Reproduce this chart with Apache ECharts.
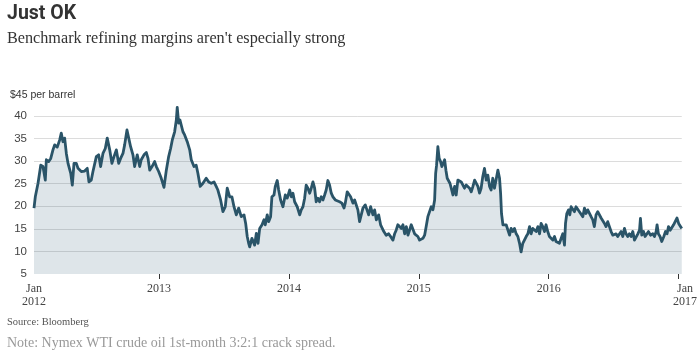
<!DOCTYPE html>
<html>
<head>
<meta charset="utf-8">
<script src="https://cdn.jsdelivr.net/npm/echarts@6/dist/echarts.min.js"></script>
<style>html,body{margin:0;padding:0;background:#fff}#c{width:700px;height:356px}</style>
</head>
<body>
<div id="c"></div>
<script>
// time in decimal years
const times = [
2012.037,2012.047,2012.068,2012.089,2012.106,2012.124,2012.132,2012.150,2012.166,2012.183,2012.196,2012.216,2012.235,2012.247,2012.260,2012.273,2012.286,2012.299,2012.320,2012.332,2012.345,2012.363,2012.376,2012.389,2012.401,2012.427,2012.447,2012.460,2012.478,2012.491,2012.517,2012.535,2012.550,2012.568,2012.586,2012.601,2012.620,2012.637,2012.653,2012.671,2012.689,2012.704,2012.722,2012.735,2012.753,2012.766,2012.781,2012.799,2012.812,2012.832,2012.851,
2012.863,2012.884,2012.902,2012.915,2012.928,2012.946,2012.966,2012.979,2012.997,2013.017,2013.038,2013.056,2013.074,2013.089,2013.102,2013.120,2013.133,2013.140,2013.151,2013.161,2013.171,2013.184,2013.197,2013.217,2013.236,2013.248,2013.269,2013.286,2013.299,2013.317,2013.338,2013.363,2013.382,2013.402,2013.423,2013.440,2013.453,2013.474,2013.492,2013.510,2013.525,2013.544,2013.561,2013.577,2013.595,2013.613,2013.633,2013.654,2013.667,2013.679,2013.690,
2013.698,2013.715,2013.736,2013.749,2013.762,2013.775,2013.793,2013.808,2013.818,2013.833,2013.844,2013.859,2013.869,2013.885,2013.895,2013.910,2013.921,2013.936,2013.954,2013.972,2013.987,2014.006,2014.018,2014.031,2014.044,2014.064,2014.083,2014.095,2014.108,2014.121,2014.133,2014.146,2014.160,2014.172,2014.185,2014.198,2014.210,2014.223,2014.236,2014.249,2014.262,2014.275,2014.287,2014.300,2014.313,2014.326,2014.339,2014.357,2014.372,2014.390,2014.408,2014.424,2014.434,2014.449,2014.460,2014.475,2014.493,2014.506,2014.518,2014.531,2014.544,
2014.557,2014.570,2014.588,2014.603,2014.614,2014.629,2014.647,2014.660,2014.673,2014.691,2014.706,2014.716,2014.731,2014.749,2014.768,2014.783,2014.801,2014.814,2014.826,2014.839,2014.853,2014.865,2014.878,2014.891,2014.904,2014.917,2014.930,2014.942,2014.955,2014.968,2014.980,2014.993,2015.006,2015.019,2015.032,2015.045,2015.057,2015.070,2015.083,2015.096,2015.109,2015.122,2015.130,2015.137,2015.147,2015.157,2015.168,2015.178,2015.188,2015.199,2015.209,2015.219,2015.230,2015.240,2015.250,2015.263,2015.276,2015.288,2015.301,2015.314,2015.327,2015.340,2015.352,2015.365,2015.378,
2015.391,2015.404,2015.417,2015.430,2015.442,2015.455,2015.468,2015.480,2015.493,2015.506,2015.519,2015.532,2015.545,2015.557,2015.570,2015.583,2015.596,2015.609,2015.622,2015.630,2015.637,2015.648,2015.661,2015.673,2015.686,2015.699,2015.711,2015.724,2015.737,2015.750,2015.763,2015.776,2015.788,2015.801,2015.814,2015.827,2015.840,2015.853,2015.865,2015.878,2015.891,2015.904,2015.917,2015.930,2015.942,2015.955,2015.968,2015.980,2015.993,2016.006,2016.019,2016.032,2016.045,2016.057,2016.070,2016.083,2016.096,2016.109,2016.122,2016.130,2016.140,2016.153,2016.163,2016.173,2016.186,2016.199,2016.211,2016.224,
2016.237,2016.250,2016.263,2016.276,2016.288,2016.301,2016.314,2016.327,2016.340,2016.352,2016.365,2016.378,2016.391,2016.404,2016.417,2016.430,2016.442,2016.455,2016.468,2016.481,2016.494,2016.507,2016.519,2016.532,2016.545,2016.558,2016.571,2016.584,2016.596,2016.609,2016.622,2016.635,2016.648,2016.661,2016.674,2016.687,2016.700,2016.707,2016.717,2016.731,2016.743,2016.756,2016.769,2016.784,2016.802,2016.815,2016.828,2016.835,2016.845,2016.858,2016.871,2016.887,2016.900,2016.912,2016.923,2016.936,2016.949,2016.962,2016.975,2016.988,2017.001,2017.014,2017.025
];
// crack spread, $ per barrel
const spread = [
19.6,22.1,25.1,29.1,28.8,25.8,30.3,29.9,30.6,32.5,33.6,33.1,34.7,36.2,34.3,35.1,31.7,29.5,27.3,24.7,29.5,29.5,28.4,28.0,27.7,27.8,28.4,25.4,25.8,27.7,31.0,31.4,28.8,31.7,32.8,35.1,32.5,29.5,31.0,32.5,29.5,30.6,31.7,33.6,36.9,36.7,33.2,31.4,28.8,31.4,28.8,
30.3,31.4,31.9,30.6,28.0,28.8,29.9,28.8,27.7,26.2,24.2,28.0,31.0,32.8,34.7,36.5,39.1,41.9,38.4,39.1,38.7,36.5,35.8,34.3,32.5,30.3,28.8,29.1,27.3,24.4,25.1,26.2,25.4,25.1,25.4,24.4,23.6,21.4,18.8,19.9,24.0,22.1,22.1,19.9,18.1,19.6,17.7,18.1,16.2,13.3,11.8,
11.0,12.9,11.4,14.0,11.8,15.1,15.9,17.0,15.9,18.1,16.6,17.7,22.1,22.5,24.4,25.7,23.6,21.4,19.9,22.5,21.8,23.6,22.1,22.9,21.0,19.9,18.1,19.2,19.9,21.8,24.7,24.0,22.9,24.0,25.4,24.0,21.0,21.8,21.0,22.1,21.4,22.5,23.6,25.7,24.7,22.9,22.1,21.4,21.8,21.0,20.7,19.6,20.7,23.2,23.6,22.1,20.7,21.4,21.4,19.2,16.6,
18.1,19.6,20.3,19.9,18.1,19.9,18.1,19.2,17.0,18.1,15.9,16.2,14.4,13.6,13.9,13.3,12.5,13.9,14.7,15.9,16.2,15.1,15.9,13.9,15.5,13.6,13.9,15.9,15.9,13.9,13.6,13.3,12.5,12.5,12.9,13.6,15.5,17.7,18.1,19.9,19.2,21.4,27.3,29.1,33.2,30.6,29.9,28.8,29.5,30.3,28.0,26.2,26.2,25.1,24.0,22.5,24.4,22.5,25.8,26.2,25.4,25.4,24.0,24.7,24.3,
24.0,23.2,24.4,25.8,26.2,24.4,22.9,24.0,26.6,28.4,25.8,26.9,24.4,23.6,26.2,24.0,24.4,28.0,26.2,22.9,18.4,15.9,16.2,15.9,15.5,13.6,15.1,14.4,15.1,13.9,13.3,11.8,9.9,11.8,12.2,13.3,13.9,15.5,13.9,15.1,15.1,14.4,15.5,13.9,16.2,15.5,14.4,15.9,14.4,13.3,13.6,12.5,13.3,12.2,12.5,11.8,11.4,13.9,11.4,16.2,18.4,19.2,18.1,19.9,19.6,18.8,19.9,19.5,
18.8,19.2,17.7,19.6,18.4,19.2,18.8,17.7,17.0,15.5,18.1,18.8,18.4,17.4,17.0,16.2,15.5,16.6,15.5,14.4,13.6,13.3,13.9,13.3,13.6,14.4,13.3,15.1,13.9,13.3,13.9,13.3,14.4,12.5,12.9,13.9,14.7,17.3,13.6,14.4,13.3,13.6,14.4,13.6,13.9,13.3,14.4,15.9,13.9,13.3,12.2,13.3,14.4,13.9,15.5,14.7,15.1,15.9,16.2,17.4,16.2,15.9,15.1
];
const tickYears = [2013, 2014, 2015, 2016, 2017];
const labelYears = [2012.037, 2013, 2014, 2015, 2016, 2017];
const labelTexts = ['Jan\n2012', '2013', '2014', '2015', '2016', 'Jan\n2017'];
const yTicks = [5, 10, 15, 20, 25, 30, 35, 40, 45];

const data = times.map((t, i) => [t, spread[i]]);
const labelMap = {};
labelYears.forEach((y, i) => { labelMap[y] = labelTexts[i]; });

const chart = echarts.init(document.getElementById('c'), null, {renderer: 'canvas'});
chart.setOption({
  animation: false,
  backgroundColor: '#fff',
  title: [
    {text: 'Just OK', left: 7, top: 4, padding: 0, textStyle: {fontFamily: 'Roboto', fontWeight: 'bold', fontSize: 19.5, color: '#333'}},
    {text: "Benchmark refining margins aren't especially strong", left: 7, top: 31, padding: 0, textStyle: {fontFamily: 'Liberation Serif', fontWeight: 'normal', fontSize: 16.2, color: '#333'}},
    {text: '$45 per barrel', left: 10, top: 90, padding: 0, textStyle: {fontFamily: 'Liberation Sans', fontWeight: 'normal', fontSize: 10.5, color: '#333'}},
    {text: 'Source: Bloomberg', left: 7, top: 317, padding: 0, textStyle: {fontFamily: 'Liberation Serif', fontWeight: 'normal', fontSize: 10.5, color: '#555'}},
    {text: 'Note: Nymex WTI crude oil 1st-month 3:2:1 crack spread.', left: 7, top: 336, padding: 0, textStyle: {fontFamily: 'Liberation Serif', fontWeight: 'normal', fontSize: 14, color: '#999'}}
  ],
  grid: {left: 34, right: 18, top: 93.4, bottom: 82, containLabel: false},
  xAxis: {
    type: 'value',
    min: times[0],
    max: times[times.length - 1],
    splitLine: {show: false},
    axisLine: {show: false},
    axisTick: {show: true, customValues: tickYears, length: 5, lineStyle: {color: '#333', width: 1}},
    axisLabel: {
      customValues: labelYears,
      showMinLabel: true, showMaxLabel: true, hideOverlap: false,
      margin: 8,
      fontFamily: 'Liberation Serif', fontSize: 12, color: '#444', lineHeight: 13,
      formatter: function (v) {
        const key = labelYears.find(y => Math.abs(y - v) < 1e-6);
        const txt = labelMap[key] || '';
        if (key === 2017) return '{r|' + txt.replace('\n', '}\n{r|') + '}';
        return txt;
      },
      rich: {r: {fontFamily: 'Liberation Serif', fontSize: 12, color: '#444', lineHeight: 13, padding: [0, 0, 0, 13]}}
    }
  },
  yAxis: {
    type: 'value',
    min: 5, max: 45, interval: 5,
    axisLine: {show: false},
    axisTick: {show: false},
    axisLabel: {margin: 7, fontFamily: 'Liberation Sans', fontSize: 11.5, color: '#444',
      formatter: v => (v === yTicks[yTicks.length - 1] ? '' : String(v))},
    splitLine: {show: true, lineStyle: {color: ['rgba(0,0,0,0)', '#dcdcdc', '#dcdcdc', '#dcdcdc', '#dcdcdc', '#dcdcdc', '#dcdcdc', '#dcdcdc', 'rgba(0,0,0,0)'], width: 1}}
  },
  series: [{
    type: 'line',
    data: data,
    showSymbol: false,
    symbol: 'none',
    lineStyle: {color: '#2a5468', width: 2.8, join: 'round'},
    areaStyle: {color: 'rgba(40,85,110,0.22)', origin: 'start'},
    z: 2
  }]
});
</script>
</body>
</html>
